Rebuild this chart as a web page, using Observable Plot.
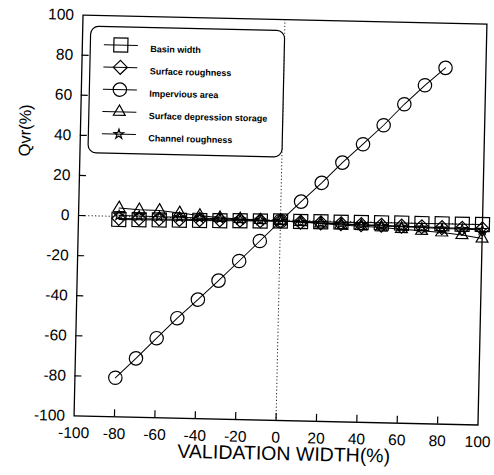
<!DOCTYPE html>
<html><head><meta charset="utf-8">
<script src="https://cdn.jsdelivr.net/npm/d3@7"></script>
<script src="https://cdn.jsdelivr.net/npm/@observablehq/plot@0.6"></script>
<style>
html,body{margin:0;padding:0;background:#fff;}
#chart{width:494px;height:475px;overflow:hidden;}
#chart svg{transform:rotate(1.28deg);transform-origin:279.75px 219.5px;}
</style></head><body><div id="chart"></div>
<script>
// ---- data ----
const widths = [-80,-70,-60,-50,-40,-30,-20,-10,0,10,20,30,40,50,60,70,80,90,100];
const imperviousWidths = [-80,-70,-60,-50,-40,-30,-20,-10,0,10,20,30,40,50,60,70,80];
const basinWidth = [-1.5,-1.4,-1.3,-1.2,-1.1,-1.0,-0.8,-0.7,-0.5,-0.5,-0.4,-0.4,-0.3,-0.3,-0.2,-0.2,-0.1,-0.1,0];
const surfaceRoughness = [-1.0,-0.9,-0.8,-0.8,-0.7,-0.6,-0.5,-0.5,-0.5,-0.8,-1.0,-1.2,-1.4,-1.5,-1.7,-1.8,-2.0,-2.1,-2.2];
const imperviousArea = [-80.5,-70.6,-60.3,-50.1,-40.6,-30.9,-20.9,-10.7,-0.5,9.4,19.0,29.3,38.7,48.4,59.1,68.8,77.7];
const depressionStorage = [4.2,3.5,3.4,2.4,1.3,0.4,0.0,-0.3,-0.5,-0.8,-1.3,-1.8,-2.2,-2.6,-3.2,-3.8,-4.4,-5.5,-7.0];
const channelRoughness = [0.5,0.4,0.3,0.2,0.1,0.0,-0.2,-0.3,-0.5,-0.8,-1.1,-1.3,-1.6,-1.8,-2.0,-2.2,-2.4,-2.5,-2.7];

const seriesNames = ["Basin width","Surface roughness","Impervious area","Surface depression storage","Channel roughness"];
const xTicks = [-100,-80,-60,-40,-20,0,20,40,60,80,100];
const yTicks = [-100,-80,-60,-40,-20,0,20,40,60,80,100];
const innerTicks = [-80,-60,-40,-20,0,20,40,60,80];
const xLabel = "VALIDATION WIDTH(%)";
const yLabel = "Qvr(%)";

// ---- styling / layout ----
const seriesSymbols = ["square","diamond2","circle","triangle","star"];
const seriesR = [7.9, 6.3, 6.7, 4.4, 3];
const W = 494, H = 475, ML = 78, MR = 12, MT = 19, MB = 55;
const FW = W - ML - MR, FH = H - MT - MB;
const tickPx = 7;
const tickLenX = tickPx / FW * 200, tickLenY = tickPx / FH * 200;
const LEG = {boxL: 8, boxT: 11, boxR: 202, boxB: 137.5, rowTop: 29.1, rowStep: 22.3, symX: 38.5, textX: 68};
const font = "'Liberation Sans', Arial, Helvetica, sans-serif";

// ---- build table ----
const seriesX = [widths, widths, imperviousWidths, widths, widths];
const seriesY = [basinWidth, surfaceRoughness, imperviousArea, depressionStorage, channelRoughness];
const rows = [];
seriesNames.forEach((name, i) => {
  seriesX[i].forEach((x, j) => rows.push({series: name, x, y: seriesY[i][j]}));
});

const lineSymbol = {draw(ctx) { ctx.moveTo(-17, 0); ctx.lineTo(17, 0); }};

const marks = [
  Plot.ruleX([0], {stroke: "#222", strokeWidth: 1, strokeDasharray: "1.2,2.2"}),
  Plot.ruleY([0], {stroke: "#222", strokeWidth: 1, strokeDasharray: "1.2,2.2"}),
  Plot.ruleX(innerTicks, {y1: -100, y2: -100 + tickLenY, stroke: "#000", strokeWidth: 1.2}),
  Plot.ruleY(innerTicks, {x1: -100, x2: -100 + tickLenX, stroke: "#000", strokeWidth: 1.2}),
  Plot.axisX({ticks: xTicks, tickSize: 0, tickPadding: 11, tickFormat: d => String(d), fontSize: 15.5, label: null}),
  Plot.axisY({ticks: yTicks, tickSize: 0, tickPadding: 9, tickFormat: d => String(d), fontSize: 15.5, label: null}),
  Plot.text([xLabel], {frameAnchor: "bottom", dx: 8.5, dy: 39.5, text: d => d, fontSize: 19.5, fill: "#000"}),
  Plot.text([yLabel], {frameAnchor: "left", dx: -55, dy: -57.8, rotate: -90, text: d => d, fontSize: 16.5, fill: "#000"}),
  Plot.line(rows, {x: "x", y: "y", z: "series", stroke: "#000", strokeWidth: 1})
];
seriesNames.forEach((name, i) => {
  marks.push(Plot.dot(rows.filter(d => d.series === name), {
    x: "x", y: "y", symbol: seriesSymbols[i], r: seriesR[i],
    stroke: "#000", fill: "none", strokeWidth: 1.2
  }));
});
marks.push(Plot.frame({stroke: "#000", strokeWidth: 1.3}));
// legend
marks.push(Plot.frame({insetLeft: LEG.boxL, insetTop: LEG.boxT, insetRight: FW - LEG.boxR, insetBottom: FH - LEG.boxB,
  rx: 8, ry: 8, fill: "white", stroke: "#000", strokeWidth: 1.2}));
seriesNames.forEach((name, i) => {
  const dy = LEG.rowTop + i * LEG.rowStep;
  marks.push(Plot.dot([name], {frameAnchor: "top-left", dx: LEG.symX, dy, symbol: lineSymbol, r: 3, stroke: "#000", strokeWidth: 1}));
  marks.push(Plot.dot([name], {frameAnchor: "top-left", dx: LEG.symX, dy, symbol: seriesSymbols[i], r: seriesR[i], stroke: "#000", fill: "none", strokeWidth: 1.2}));
  marks.push(Plot.text([name], {frameAnchor: "top-left", dx: LEG.textX, dy, text: d => d, textAnchor: "start", fontSize: 9, fontWeight: "bold", fill: "#000"}));
});

const chart = Plot.plot({
  width: W, height: H,
  marginLeft: ML, marginRight: MR, marginTop: MT, marginBottom: MB,
  x: {domain: [-100, 100]},
  y: {domain: [-100, 100]},
  style: {fontFamily: font, background: "#fff", color: "#000", overflow: "visible"},
  marks
});
document.getElementById("chart").append(chart);
</script>
</body></html>
